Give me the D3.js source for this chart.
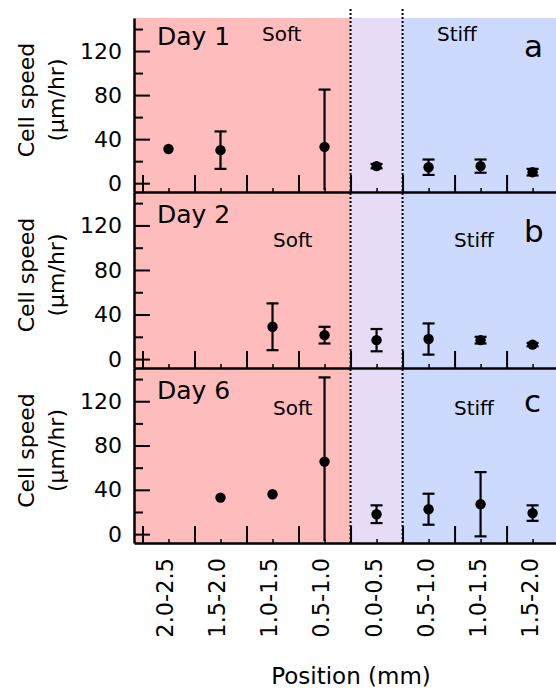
<!DOCTYPE html>
<html lang="en">
<head>
<meta charset="UTF-8">
<title>Cell speed</title>
<style>
    body { margin: 0; background: #fff; }
    svg text { font-family: "DejaVu Sans", sans-serif; fill: #000; }
</style>
</head>
<body>
<svg id="chart"></svg>
<script src="https://d3js.org/d3.v7.min.js"></script>
<script>
const categories = ["2.0-2.5", "1.5-2.0", "1.0-1.5", "0.5-1.0", "0.0-0.5", "0.5-1.0", "1.0-1.5", "1.5-2.0"];
const dayLabels = ["Day 1", "Day 2", "Day 6"];
const panelLetters = ["a", "b", "c"];
const day1Speed = [31, 30, null, 33, 15.5, 14.5, 15.5, 10];
const day1Err   = [0, 17, null, 52, 2, 7, 6, 3];
const day2Speed = [null, null, 29, 21.5, 17, 18, 17, 13];
const day2Err   = [null, null, 21, 7.5, 10, 14, 3, 1.5];
const day6Speed = [null, 33, 36, 65.5, 18, 22.5, 27, 19];
const day6Err   = [null, 0, 0, 76, 8, 14, 29, 7];
const yMajorTicks = [0, 40, 80, 120];
const yMinorTicks = [20, 60, 100, 140];
const regions = [
    { from: -0.663, to: 3.5, color: "#ffbcbc" },   // soft
    { from: 3.5, to: 4.5, color: "#e7dcf6" },      // transition
    { from: 4.5, to: 7.45, color: "#cddafd" }      // stiff
];

const speeds = [day1Speed, day2Speed, day6Speed];
const errors = [day1Err, day2Err, day6Err];

const W = 556, H = 691;
const svg = d3.select("#chart").attr("width", W).attr("height", H);

const x = d3.scaleLinear().domain([-0.663, 7.45]).range([134, 556]);

const panels = [
    { top: 18, bottom: 192, dayY: 27, softX: 262, stiffX: 437, tagY: 23, letterY: 39 },
    { top: 192, bottom: 368, dayY: 31, softX: 273, stiffX: 454, tagY: 55, letterY: 50 },
    { top: 368, bottom: 543, dayY: 31, softX: 273, stiffX: 454, tagY: 47, letterY: 44 }
];

// backgrounds spanning all three panels
svg.selectAll(".region")
    .data(regions)
    .enter()
    .append("rect")
    .attr("x", d => x(d.from))
    .attr("y", 18)
    .attr("width", d => x(d.to) - x(d.from))
    .attr("height", 543 - 18)
    .attr("fill", d => d.color);

panels.forEach((p, k) => {
    const y = d3.scaleLinear().domain([-8, 150]).range([p.bottom, p.top]);
    const g = svg.append("g");

    g.append("clipPath").attr("id", "clip" + k)
        .append("rect")
        .attr("x", 134).attr("y", p.top)
        .attr("width", W - 134).attr("height", p.bottom - p.top - 2);

    // error bars and points
    const rows = categories.map((c, i) => ({ i, v: speeds[k][i], e: errors[k][i] }))
        .filter(d => d.v !== null);

    const marks = g.append("g").attr("clip-path", `url(#clip${k})`);
    const withErr = rows.filter(d => d.e > 0);
    marks.selectAll(".err")
        .data(withErr)
        .enter()
        .append("line")
        .attr("x1", d => x(d.i)).attr("x2", d => x(d.i))
        .attr("y1", d => y(d.v - d.e)).attr("y2", d => y(d.v + d.e))
        .attr("stroke", "#000").attr("stroke-width", 2.2);
    [1, -1].forEach(s => {
        marks.selectAll(".cap" + s)
            .data(withErr)
            .enter()
            .append("line")
            .attr("x1", d => x(d.i) - 6).attr("x2", d => x(d.i) + 6)
            .attr("y1", d => y(d.v + s * d.e)).attr("y2", d => y(d.v + s * d.e))
            .attr("stroke", "#000").attr("stroke-width", 2.2);
    });
    marks.selectAll("circle")
        .data(rows)
        .enter()
        .append("circle")
        .attr("cx", d => x(d.i))
        .attr("cy", d => y(d.v))
        .attr("r", 5.2)
        .attr("fill", "#000");

    // y axis
    const yAxis = d3.axisLeft(y).tickValues(yMajorTicks).tickSizeInner(-16).tickSizeOuter(0).tickPadding(12);
    const ya = g.append("g").attr("transform", "translate(134,0)").call(yAxis);
    ya.select(".domain").attr("stroke-width", 2.5);
    ya.selectAll(".tick line").attr("stroke-width", 2);
    ya.selectAll("text").style("font-size", "22px");
    g.append("g").attr("transform", "translate(134,0)")
        .call(d3.axisLeft(y).tickValues(yMinorTicks).tickSize(-9).tickFormat(""))
        .call(a => a.select(".domain").remove())
        .selectAll("line").attr("stroke-width", 2);

    // x axis: boundary ticks and small centre ticks
    const xa = g.append("g").attr("transform", `translate(0,${p.bottom})`)
        .call(d3.axisBottom(x).tickValues(d3.range(-0.5, 8, 1)).tickSizeInner(-17).tickSizeOuter(0).tickFormat(""));
    xa.select(".domain").attr("stroke-width", 2.5);
    xa.selectAll(".tick line").attr("stroke-width", 2);
    g.append("g").attr("transform", `translate(0,${p.bottom})`)
        .call(d3.axisBottom(x).tickValues(d3.range(0, 8)).tickSize(-4).tickFormat(""))
        .call(a => a.select(".domain").remove())
        .selectAll("line").attr("stroke-width", 1.5);

    // y title
    const cy = (p.top + p.bottom) / 2 - 5;
    g.append("text")
        .attr("transform", `translate(34,${cy}) rotate(-90)`)
        .attr("text-anchor", "middle")
        .style("font-size", "22px")
        .text("Cell speed");
    g.append("text")
        .attr("transform", `translate(64,${cy}) rotate(-90)`)
        .attr("text-anchor", "middle")
        .style("font-size", "22px")
        .text("(\u03bcm/hr)");

    // annotations
    g.append("text").attr("x", 157).attr("y", p.top + p.dayY)
        .style("font-size", "25px").text(dayLabels[k]);
    g.append("text").attr("x", p.softX).attr("y", p.top + p.tagY)
        .style("font-size", "20px").text("Soft");
    g.append("text").attr("x", p.stiffX).attr("y", p.top + p.tagY)
        .style("font-size", "20px").text("Stiff");
    g.append("text").attr("x", 524).attr("y", p.top + p.letterY)
        .style("font-size", "31px").text(panelLetters[k]);
});

// dotted boundaries
[3.5, 4.5].forEach(b => {
    svg.append("line")
        .attr("x1", x(b)).attr("x2", x(b))
        .attr("y1", 9).attr("y2", 545)
        .attr("stroke", "#000").attr("stroke-width", 2)
        .attr("stroke-dasharray", "2,2");
});

// category labels
svg.selectAll(".cat")
    .data(categories)
    .enter()
    .append("text")
    .attr("transform", (d, i) => `translate(${x(i)},558) rotate(-90)`)
    .attr("text-anchor", "end")
    .attr("dy", "0.22em")
    .style("font-size", "22.5px")
    .text(d => d);

svg.append("text")
    .attr("x", 351).attr("y", 684)
    .attr("text-anchor", "middle")
    .style("font-size", "23px")
    .text("Position (mm)");
</script>
</body>
</html>
